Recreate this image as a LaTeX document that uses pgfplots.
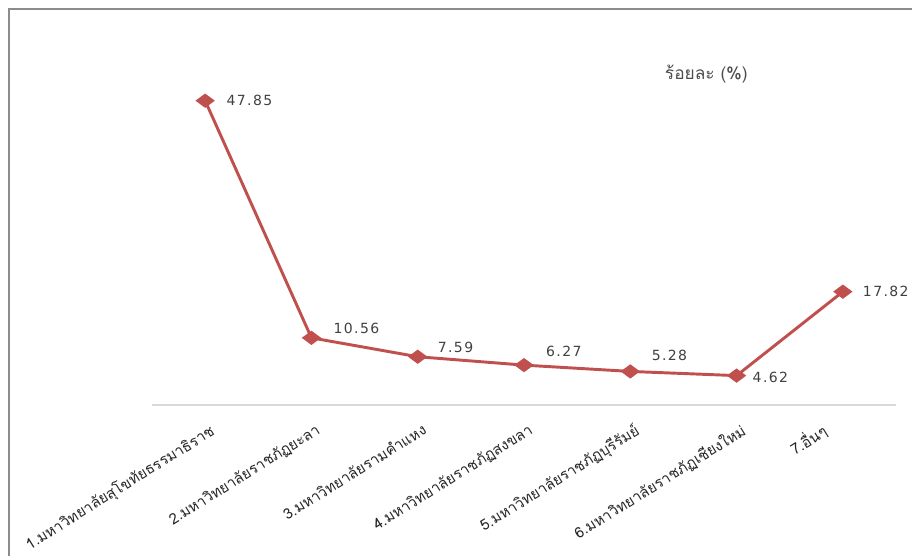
\documentclass[border=0pt]{standalone}
\usepackage{pgfplots}
\pgfplotsset{compat=1.18}
\usepackage{pgfplotstable}
\usepackage{fontspec}
\setmainfont{DejaVu Sans}
\newfontfamily\thaifont[Script=Thai]{Loma}
\newfontfamily\numfont[LetterSpace=10]{DejaVu Sans}
\definecolor{linered}{HTML}{C0504D}
\definecolor{txt}{HTML}{404040}
\definecolor{axgray}{HTML}{D9D9D9}
\definecolor{framegray}{HTML}{8C8C8C}

\pgfplotstableread{
x y lbl dx dy
1 47.85 47.85 15 0
2 10.56 10.56 15.5 6.75
3 7.59 7.59 14 6.75
4 6.27 6.27 15.5 10.5
5 5.28 5.28 15 12
6 4.62 4.62 11 -1
7 17.82 17.82 14 0
}\data

\begin{document}
\begin{tikzpicture}
\useasboundingbox (0,0) rectangle (684pt,-417pt);
\draw[color=framegray, line width=1.5pt] (6.4pt,-417pt) -- (6.4pt,-7.1pt) -- (684pt,-7.1pt);
\begin{axis}[
  at={(114pt,-303.75pt)}, anchor=south west,
  scale only axis, width=558pt, height=286.2pt,
  xmin=0.5, xmax=7.5, ymin=0, ymax=60,
  axis y line=none, axis x line=bottom,
  x axis line style={-, draw=axgray, line width=1.5pt},
  xtick={1,...,6},
  xticklabels={1.มหาวิทยาลัยสุโขทัยธรรมาธิราช,2.มหาวิทยาลัยราชภัฏยะลา,3.มหาวิทยาลัยรามคำแหง,4.มหาวิทยาลัยราชภัฏสงขลา,5.มหาวิทยาลัยราชภัฏบุรีรัมย์,6.มหาวิทยาลัยราชภัฏเชียงใหม่},
  extra x ticks={7},
  extra x tick labels={7.อื่นๆ},
  extra x tick style={xticklabel style={xshift=-16pt, yshift=11pt}},
  major tick length=0pt,
  xticklabel style={xshift=2.5pt, yshift=-13pt, rotate=32, anchor=north east, inner sep=0pt,
    font=\thaifont\fontsize{11.2}{13}\selectfont, text=black!85},
  ytick=\empty,
  clip=false,
  legend style={at={(0.745,0.87)}, anchor=center, draw=none, fill=none,
    font=\thaifont\fontsize{13}{15}\selectfont, text=black!70},
]
\addplot[color=linered, line width=2.2pt, mark=diamond*,
  mark options={solid, fill=linered, mark size=4pt, xscale=1.8},
  legend image code/.code={},
  point meta=explicit symbolic,
  visualization depends on={\thisrow{dx} \as \dx},
  visualization depends on={\thisrow{dy} \as \dy},
  nodes near coords,
  nodes near coords style={anchor=west, inner sep=0pt, xshift=\dx pt, yshift=\dy pt,
    font=\numfont\fontsize{10.5}{12}\selectfont, text=txt},
] table[x=x, y=y, meta=lbl] {\data};
\addlegendentry{ร้อยละ (\%)}
\end{axis}
\end{tikzpicture}
\end{document}
